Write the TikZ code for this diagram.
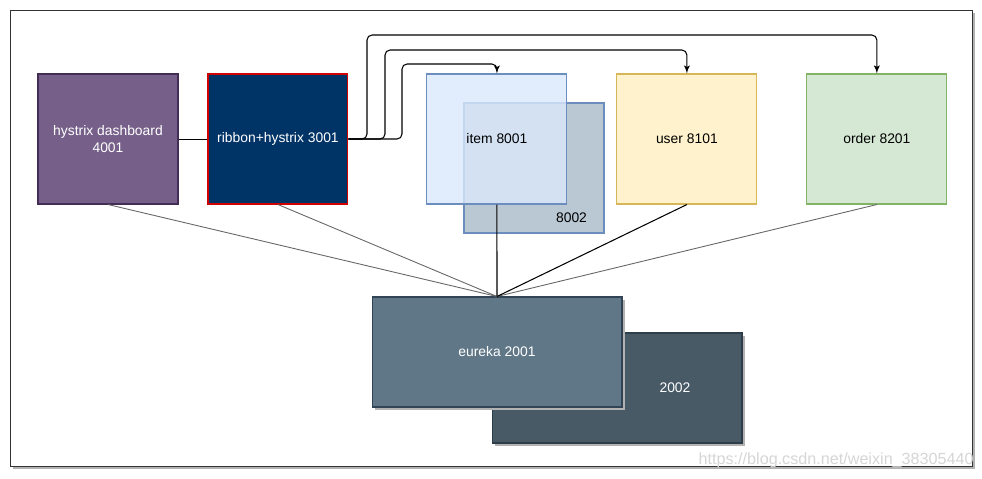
\documentclass[tikz,border=0pt]{standalone}
\usepackage{fontspec}
\setmainfont{Liberation Sans}
\usetikzlibrary{arrows,positioning}

\definecolor{dashfill}{HTML}{76608A}
\definecolor{dashline}{HTML}{432D57}
\definecolor{ribbonfill}{HTML}{003366}
\definecolor{ribbonline}{HTML}{D00000}
\definecolor{itemfill}{HTML}{DAE8FC}
\definecolor{itemline}{HTML}{6C8EBF}
\definecolor{itemtwofill}{HTML}{BAC8D3}
\definecolor{userfill}{HTML}{FFF2CC}
\definecolor{userline}{HTML}{D6B656}
\definecolor{orderfill}{HTML}{D5E8D4}
\definecolor{orderline}{HTML}{82B366}
\definecolor{eurekafill}{HTML}{607788}
\definecolor{eurekaline}{HTML}{314354}
\definecolor{eurekatwofill}{HTML}{475A66}
\definecolor{eurekatwoline}{HTML}{2D3E4A}
\definecolor{grayline}{HTML}{666666}

\begin{document}
\begin{tikzpicture}[x=0.02cm,y=-0.02cm,>=latex',node distance=2cm,auto]
        % Define block styles
        \tikzstyle{block} = [rectangle, draw, line width=0.6pt, minimum width=2.8cm, minimum height=2.6cm, text centered, align=center, font=\fontsize{7.9}{9.6}\selectfont]
        \tikzstyle{bigblock} = [block, minimum width=5cm, minimum height=2.2cm, text=white]
        \tikzstyle{line} = [draw, line width=0.6pt, -latex']
        \tikzstyle{regline} = [draw, line width=0.5pt, grayline]

        \useasboundingbox (0,0) rectangle (982,478);

        % Frame
        \fill [black!30] (13,13) rectangle (975,469);
        \draw [fill=white, draw=black!80, line width=0.5pt] (10,10) rectangle (972,466);

        % Nodes
        \node [block, fill=dashfill, draw=dashline, text=white] (dashboard) at (108,139) {hystrix dashboard\\4001};
        \node [block, fill=ribbonfill, draw=ribbonline, text=white, right of=dashboard, node distance=3.4cm] (ribbon) {ribbon+hystrix 3001};
        \node [block, fill=itemtwofill, draw=itemline] (item2) at (534,168) {};
        \node [font=\fontsize{7.9}{9.6}\selectfont] (item2label) at ([xshift=-0.66cm,yshift=0.32cm]item2.south east) {8002};
        \node [block, fill=itemfill, draw=itemline, fill opacity=0.8, text opacity=1, right of=ribbon, node distance=4.38cm] (item) {item 8001};
        \node [block, fill=userfill, draw=userline, right of=item, node distance=3.8cm] (user) {user 8101};
        \node [block, fill=orderfill, draw=orderline, right of=user, node distance=3.8cm] (order) {order 8201};

        \fill [black!30] (495,336) rectangle (745,446);
        \node [bigblock, fill=eurekatwofill, draw=eurekatwoline] (eureka2) at (617,388) {};
        \node [text=white, font=\fontsize{7.9}{9.6}\selectfont] (eureka2label) at ([xshift=1.16cm]eureka2.center) {2002};
        \fill [black!30] (375,300) rectangle (625,410);
        \node [bigblock, fill=eurekafill, draw=eurekaline] (eureka) at (497,352) {eureka 2001};

        % Arrows
        \draw [line width=0.5pt] (dashboard) -- (ribbon);
        \path [line, rounded corners=0.1cm] (ribbon.east) -| (402,64) -| (item.north);
        \path [line, rounded corners=0.1cm] (ribbon.east) -| (385,50) -| (user.north);
        \path [line, rounded corners=0.1cm] (ribbon.east) -| (367,35) -| (order.north);

        % Registration
        \path [regline] (dashboard.south) -- (eureka.north);
        \path [regline] (ribbon.south) -- (eureka.north);
        \path [regline] (order.south) -- (eureka.north);
        \draw [line width=0.6pt] (item.south) -- (eureka.north);
        \draw [line width=0.6pt] (user.south) -- (eureka.north);

        % Watermark
        \node [text=black!16, font=\fontsize{9.2}{11}\selectfont, anchor=east, inner sep=0pt] (mark) at (974,460) {https://blog.csdn.net/weixin\_38305440};

    \end{tikzpicture}
\end{document}
